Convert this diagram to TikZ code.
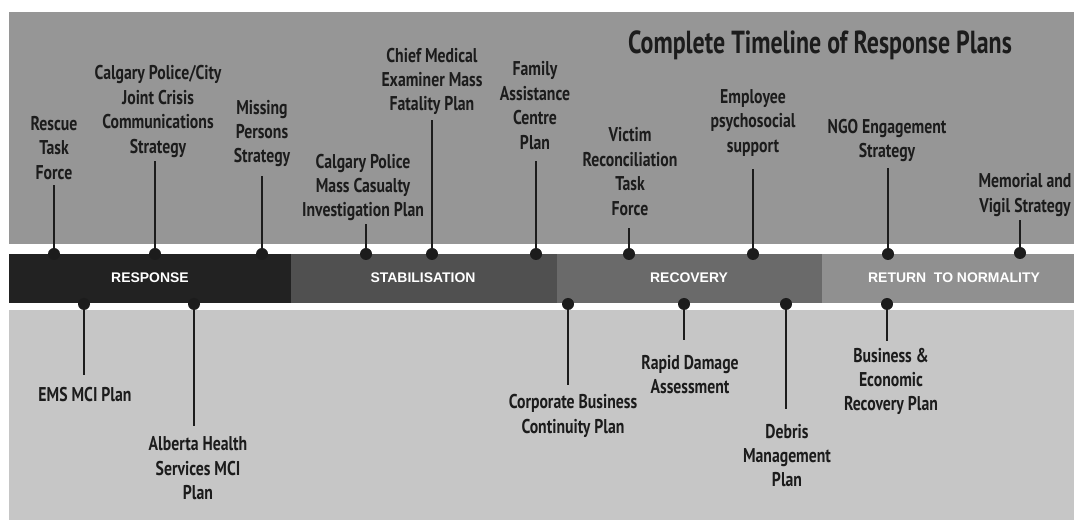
\documentclass[tikz,border=0pt]{standalone}
\usepackage{fontspec}
\setmainfont{PT Sans}[FakeStretch=0.79]
\newfontfamily\titlefont{PT Sans}[FakeStretch=0.75]
\newfontfamily\bandfont{Liberation Sans}
\definecolor{ink}{HTML}{1C1C1C}
\definecolor{upperpanel}{HTML}{969696}
\definecolor{lowerpanel}{HTML}{C6C6C6}
\definecolor{phaseA}{HTML}{222222}
\definecolor{phaseB}{HTML}{505050}
\definecolor{phaseC}{HTML}{6A6A6A}
\definecolor{phaseD}{HTML}{909090}
\begin{document}
\begin{tikzpicture}[line join=bevel,
  plan/.style={align=center,inner sep=3bp,text=ink,font=\bfseries\fontsize{20}{24.5}\selectfont},
  plandot/.style={circle,fill=ink,inner sep=0pt,minimum size=12bp},
  planstem/.style={draw=ink,line width=2bp},
  phaselabel/.style={text=white,font=\bandfont\bfseries\fontsize{14}{16}\selectfont},
]
%%
\useasboundingbox (0bp,0bp) rectangle (1074bp,520bp);
\fill [upperpanel] (9bp,276bp) rectangle (1074bp,508bp);
\fill [lowerpanel] (9bp,0bp) rectangle (1074bp,210bp);
% phase band
\fill [phaseA] (9bp,217bp) rectangle (291bp,266bp);
\fill [phaseB] (291bp,217bp) rectangle (557bp,266bp);
\fill [phaseC] (557bp,217bp) rectangle (822bp,266bp);
\fill [phaseD] (822bp,217bp) rectangle (1074bp,266bp);
\node (phase_response) at (150bp,242bp) [phaselabel] {RESPONSE};
\node (phase_stabilisation) at (423bp,242bp) [phaselabel] {STABILISATION};
\node (phase_recovery) at (689bp,242bp) [phaselabel] {RECOVERY};
\node (phase_return) at (954bp,242bp) [phaselabel] {RETURN\ \ TO NORMALITY};
%
\node (title) at (820bp,475bp) [text=ink,font=\titlefont\bfseries\fontsize{32}{36}\selectfont] {Complete Timeline of Response Plans};
%% plans above the band
\node (plan_rescue) at (54bp,372bp) [plan] {Rescue\\Task\\Force};
\node (plan_comms) at (158bp,408.5bp) [plan] {Calgary Police/City\\Joint Crisis\\Communications\\Strategy};
\node (plan_missing) at (262bp,386.5bp) [plan] {Missing\\Persons\\Strategy};
\node (plan_casualty) at (363bp,332.5bp) [plan] {Calgary Police\\Mass Casualty\\Investigation Plan};
\node (plan_fatality) at (432bp,438.5bp) [plan] {Chief Medical\\Examiner Mass\\Fatality Plan};
\node (plan_family) at (535bp,414.5bp) [plan] {Family\\Assistance\\Centre\\Plan};
\node (plan_victim) at (630bp,348.5bp) [plan] {Victim\\Reconciliation\\Task\\Force};
\node (plan_employee) at (753bp,397bp) [plan] {Employee\\psychosocial\\support};
\node (plan_ngo) at (887bp,379.5bp) [plan] {NGO Engagement\\Strategy};
\node (plan_memorial) at (1025bp,325bp) [plan] {Memorial and\\Vigil Strategy};
\node (dot_rescue) at (54bp,266bp) [plandot] {};
\node (dot_comms) at (155bp,266bp) [plandot] {};
\node (dot_missing) at (262bp,266bp) [plandot] {};
\node (dot_casualty) at (366bp,266bp) [plandot] {};
\node (dot_fatality) at (432bp,266bp) [plandot] {};
\node (dot_family) at (536bp,266bp) [plandot] {};
\node (dot_victim) at (629bp,266bp) [plandot] {};
\node (dot_employee) at (753bp,266bp) [plandot] {};
\node (dot_ngo) at (888bp,266bp) [plandot] {};
\node (dot_memorial) at (1020bp,267bp) [plandot] {};
\draw [planstem,shorten >=2bp] (dot_rescue.center) -- (dot_rescue |- plan_rescue.south);
\draw [planstem] (dot_comms.center) -- (dot_comms |- plan_comms.south);
\draw [planstem,shorten >=6bp] (dot_missing.center) -- (dot_missing |- plan_missing.south);
\draw [planstem] (dot_casualty.center) -- (dot_casualty |- plan_casualty.south);
\draw [planstem,shorten >=2bp] (dot_fatality.center) -- (dot_fatality |- plan_fatality.south);
\draw [planstem,shorten >=8bp] (dot_family.center) -- (dot_family |- plan_family.south);
\draw [planstem,shorten >=9bp] (dot_victim.center) -- (dot_victim |- plan_victim.south);
\draw [planstem,shorten >=9bp] (dot_employee.center) -- (dot_employee |- plan_employee.south);
\draw [planstem,shorten >=3bp] (dot_ngo.center) -- (dot_ngo |- plan_ngo.south);
\draw [planstem] (dot_memorial.center) -- (dot_memorial |- plan_memorial.south);
%% plans below the band
\node (plan_ems) at (85bp,125bp) [plan] {EMS MCI Plan};
\node (plan_ahs) at (198bp,51.5bp) [plan] {Alberta Health\\Services MCI\\Plan};
\node (plan_continuity) at (573bp,104bp) [plan] {Corporate Business\\Continuity Plan};
\node (plan_damage) at (690bp,145.5bp) [plan] {Rapid Damage\\Assessment};
\node (plan_debris) at (787bp,64.5bp) [plan] {Debris\\Management\\Plan};
\node (plan_economic) at (891bp,138.5bp) [plan] {Business \&\\Economic\\Recovery Plan};
\node (dot_ems) at (84bp,216bp) [plandot] {};
\node (dot_ahs) at (194bp,216bp) [plandot] {};
\node (dot_continuity) at (568bp,216bp) [plandot] {};
\node (dot_damage) at (684bp,216bp) [plandot] {};
\node (dot_debris) at (786bp,216bp) [plandot] {};
\node (dot_economic) at (887bp,216bp) [plandot] {};
\draw [planstem,shorten >=9.5bp] (dot_ems.center) -- (dot_ems |- plan_ems.north);
\draw [planstem,shorten >=7.5bp] (dot_ahs.center) -- (dot_ahs |- plan_ahs.north);
\draw [planstem,shorten >=6.5bp] (dot_continuity.center) -- (dot_continuity |- plan_continuity.north);
\draw [planstem,shorten >=11.5bp] (dot_damage.center) -- (dot_damage |- plan_damage.north);
\draw [planstem,shorten >=11.5bp] (dot_debris.center) -- (dot_debris |- plan_debris.north);
\draw [planstem,shorten >=3.5bp] (dot_economic.center) -- (dot_economic |- plan_economic.north);
%
\end{tikzpicture}
\end{document}
